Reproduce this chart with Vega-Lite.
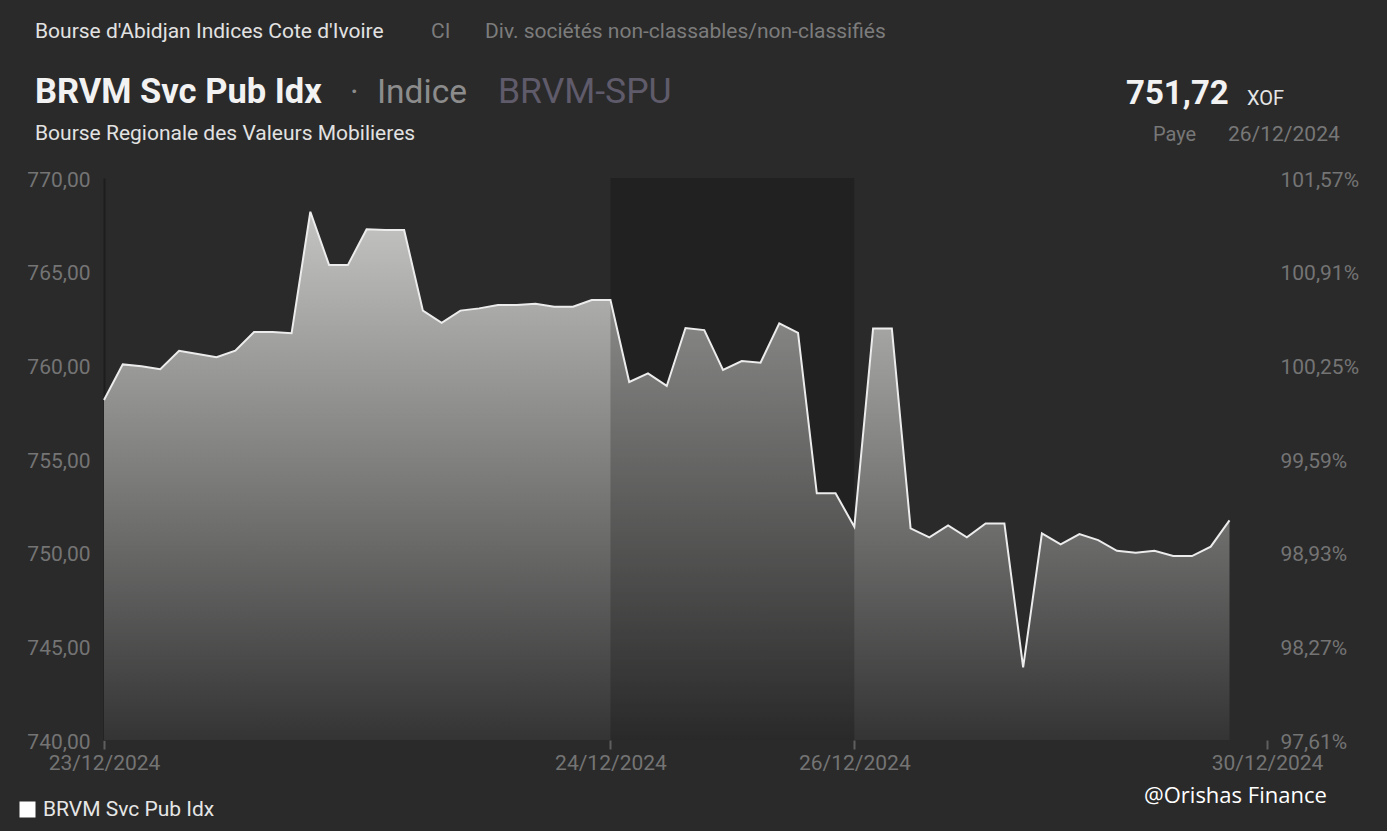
{
  "$schema": "https://vega.github.io/schema/vega-lite/v6.json",
  "width": 1163,
  "height": 562,
  "autosize": {"type": "none"},
  "padding": {"left": 104, "top": 178, "right": 120, "bottom": 91},
  "background": "#2a2a2a",
  "config": {
    "view": {"stroke": null},
    "font": "Roboto",
    "axis": {"labelFont": "Roboto", "grid": false}
  },
  "data": {
    "values": [
      {"i": 0, "v": 758.15}, {"i": 1, "v": 760.05}, {"i": 2, "v": 759.95}, {"i": 3, "v": 759.79},
      {"i": 4, "v": 760.78}, {"i": 5, "v": 760.60}, {"i": 6, "v": 760.43}, {"i": 7, "v": 760.78},
      {"i": 8, "v": 761.78}, {"i": 9, "v": 761.78}, {"i": 10, "v": 761.71}, {"i": 11, "v": 768.20},
      {"i": 12, "v": 765.35}, {"i": 13, "v": 765.35}, {"i": 14, "v": 767.26}, {"i": 15, "v": 767.22},
      {"i": 16, "v": 767.22}, {"i": 17, "v": 762.92}, {"i": 18, "v": 762.27}, {"i": 19, "v": 762.92},
      {"i": 20, "v": 763.04}, {"i": 21, "v": 763.22}, {"i": 22, "v": 763.22}, {"i": 23, "v": 763.29},
      {"i": 24, "v": 763.13}, {"i": 25, "v": 763.13}, {"i": 26, "v": 763.49}, {"i": 27, "v": 763.49},
      {"i": 28, "v": 759.11}, {"i": 29, "v": 759.57}, {"i": 30, "v": 758.90}, {"i": 31, "v": 761.99},
      {"i": 32, "v": 761.88}, {"i": 33, "v": 759.75}, {"i": 34, "v": 760.23}, {"i": 35, "v": 760.14},
      {"i": 36, "v": 762.24}, {"i": 37, "v": 761.73}, {"i": 38, "v": 753.17}, {"i": 39, "v": 753.17},
      {"i": 40, "v": 751.38}, {"i": 41, "v": 761.97}, {"i": 42, "v": 761.97}, {"i": 43, "v": 751.30},
      {"i": 44, "v": 750.82}, {"i": 45, "v": 751.45}, {"i": 46, "v": 750.82}, {"i": 47, "v": 751.56},
      {"i": 48, "v": 751.56}, {"i": 49, "v": 743.88}, {"i": 50, "v": 751.03}, {"i": 51, "v": 750.44},
      {"i": 52, "v": 750.99}, {"i": 53, "v": 750.67}, {"i": 54, "v": 750.10}, {"i": 55, "v": 750.00},
      {"i": 56, "v": 750.10}, {"i": 57, "v": 749.82}, {"i": 58, "v": 749.82}, {"i": 59, "v": 750.32},
      {"i": 60, "v": 751.72}
    ]
  },
  "layer": [
    {
      "mark": {
        "type": "area",
        "fill": {
          "gradient": "linear", "x1": 0, "y1": 0, "x2": 0, "y2": 1,
          "stops": [{"offset": 0, "color": "#c4c4c2"}, {"offset": 1, "color": "#343434"}]
        }
      },
      "encoding": {
        "x": {
          "field": "i", "type": "quantitative",
          "scale": {"domain": [0, 62], "nice": false, "zero": false},
          "axis": {
            "title": null, "values": [0, 27, 40, 62],
            "labelExpr": "datum.value == 0 ? '23/12/2024' : datum.value == 27 ? '24/12/2024' : datum.value == 40 ? '26/12/2024' : '30/12/2024'",
            "labelFontSize": 21, "labelColor": "#747474", "labelPadding": 3,
            "domain": false, "ticks": true, "tickSize": 9, "tickOffset": 0, "tickWidth": 2, "tickColor": "#5e5e5e",
            "labelOverlap": false, "labelFlush": false
          }
        },
        "y": {
          "field": "v", "type": "quantitative",
          "scale": {"domain": [740, 770], "nice": false, "zero": false},
          "axis": {
            "orient": "right", "title": null, "values": [740, 745, 750, 755, 760, 765, 770],
            "labelExpr": "replace(format(datum.value / 758.13 * 100, '.2f'), '.', ',') + '%'",
            "labelFontSize": 21, "labelColor": "#747474", "labelPadding": 13, "labelOffset": 2,
            "domain": false, "ticks": false
          }
        },
        "y2": {"datum": 740}
      }
    },
    {
      "data": {"values": [{"start": 27, "end": 40}]},
      "mark": {"type": "rect", "color": "#000000", "opacity": 0.2},
      "encoding": {
        "x": {"field": "start", "type": "quantitative"},
        "x2": {"field": "end"},
        "y": {"datum": 770, "axis": null},
        "y2": {"datum": 740}
      }
    },
    {
      "mark": {"type": "line", "strokeWidth": 2},
      "encoding": {
        "x": {"field": "i", "type": "quantitative"},
        "y": {
          "field": "v", "type": "quantitative",
          "axis": {
            "orient": "left", "title": null, "values": [740, 745, 750, 755, 760, 765, 770],
            "labelExpr": "replace(format(datum.value, '.2f'), '.', ',')",
            "labelFontSize": 21, "labelColor": "#747474", "labelPadding": 14, "labelOffset": 2,
            "domain": true, "domainColor": "#1d1d1d", "domainWidth": 2, "ticks": false
          }
        },
        "color": {
          "datum": "BRVM Svc Pub Idx", "type": "nominal",
          "scale": {"range": ["#ececec"]},
          "legend": {
            "title": null, "orient": "none", "legendX": -87, "legendY": 621,
            "symbolType": "square", "symbolSize": 256, "symbolFillColor": "#ffffff", "symbolStrokeColor": "#ffffff",
            "labelFont": "Roboto", "labelFontSize": 21, "labelColor": "#e6e6e6", "labelOffset": 5, "labelLimit": 400, "padding": 0,
            "encode": {"symbols": {"update": {"fill": {"value": "#ffffff"}, "stroke": {"value": "#ffffff"}, "strokeWidth": {"value": 0}}}}
          }
        }
      }
    },
    {"data": {"values": [{}]}, "mark": {"type": "text", "text": "Bourse d'Abidjan Indices Cote d'Ivoire", "x": -69, "y": -140, "align": "left", "baseline": "alphabetic", "font": "Roboto", "fontSize": 21, "color": "#e2e2e2"}, "encoding": {}},
    {"data": {"values": [{}]}, "mark": {"type": "text", "text": "CI", "x": 327, "y": -140, "align": "left", "baseline": "alphabetic", "font": "Roboto", "fontSize": 21, "color": "#7c7c7c"}, "encoding": {}},
    {"data": {"values": [{}]}, "mark": {"type": "text", "text": "Div. sociétés non-classables/non-classifiés", "x": 381, "y": -140, "align": "left", "baseline": "alphabetic", "font": "Roboto", "fontSize": 21, "color": "#7c7c7c"}, "encoding": {}},
    {"data": {"values": [{}]}, "mark": {"type": "text", "text": "BRVM Svc Pub Idx", "x": -69, "y": -75, "align": "left", "baseline": "alphabetic", "font": "Roboto", "fontSize": 34.5, "fontWeight": "bold", "color": "#f2f2f2"}, "encoding": {}},
    {"data": {"values": [{}]}, "mark": {"type": "text", "text": "·", "x": 246, "y": -75, "align": "left", "baseline": "alphabetic", "font": "Roboto", "fontSize": 33, "color": "#8c8c8c"}, "encoding": {}},
    {"data": {"values": [{}]}, "mark": {"type": "text", "text": "Indice", "x": 273, "y": -75, "align": "left", "baseline": "alphabetic", "font": "Roboto", "fontSize": 33.5, "color": "#8c8c8c"}, "encoding": {}},
    {"data": {"values": [{}]}, "mark": {"type": "text", "text": "BRVM-SPU", "x": 394, "y": -75, "align": "left", "baseline": "alphabetic", "font": "Roboto", "fontSize": 35.5, "color": "#5f5b6b"}, "encoding": {}},
    {"data": {"values": [{}]}, "mark": {"type": "text", "text": "Bourse Regionale des Valeurs Mobilieres", "x": -69, "y": -38, "align": "left", "baseline": "alphabetic", "font": "Roboto", "fontSize": 21, "color": "#e2e2e2"}, "encoding": {}},
    {"data": {"values": [{}]}, "mark": {"type": "text", "text": "751,72", "x": 1022, "y": -74, "align": "left", "baseline": "alphabetic", "font": "Roboto", "fontSize": 33, "fontWeight": "bold", "color": "#f2f2f2"}, "encoding": {}},
    {"data": {"values": [{}]}, "mark": {"type": "text", "text": "XOF", "x": 1143, "y": -73, "align": "left", "baseline": "alphabetic", "font": "Roboto", "fontSize": 20, "color": "#e6e6e6"}, "encoding": {}},
    {"data": {"values": [{}]}, "mark": {"type": "text", "text": "Paye", "x": 1049, "y": -37, "align": "left", "baseline": "alphabetic", "font": "Roboto", "fontSize": 20, "color": "#777777"}, "encoding": {}},
    {"data": {"values": [{}]}, "mark": {"type": "text", "text": "26/12/2024", "x": 1124, "y": -37, "align": "left", "baseline": "alphabetic", "font": "Roboto", "fontSize": 21, "color": "#777777"}, "encoding": {}},
    {"data": {"values": [{}]}, "mark": {"type": "text", "text": "@Orishas Finance", "x": 1040, "y": 625, "align": "left", "baseline": "alphabetic", "font": "Open Sans", "fontSize": 22, "color": "#ffffff"}, "encoding": {}}
  ],
  "resolve": {"axis": {"y": "independent"}}
}
